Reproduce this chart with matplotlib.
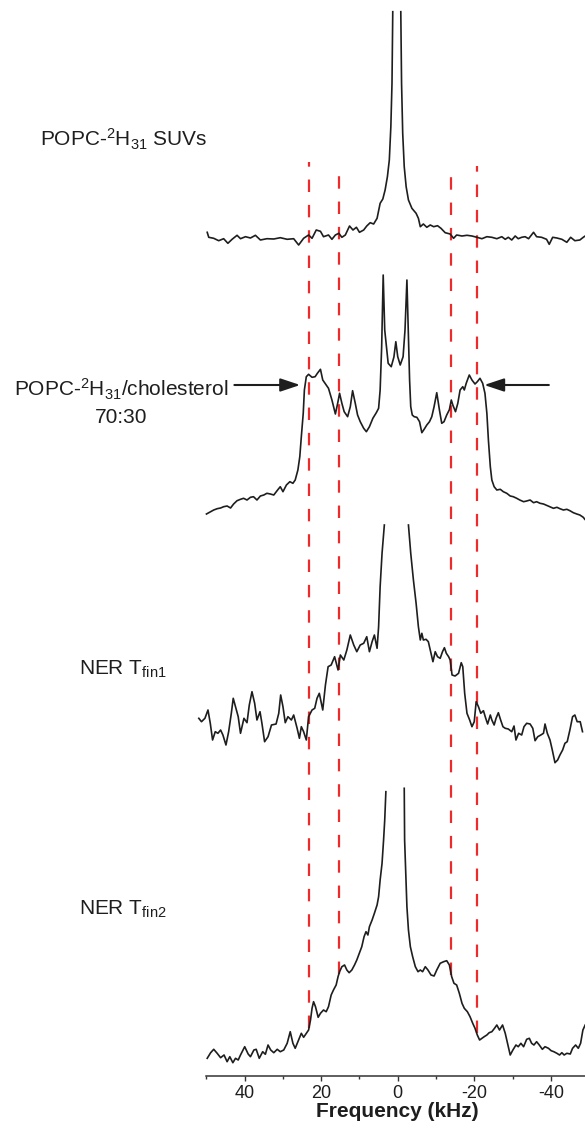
import numpy as np
import matplotlib
matplotlib.use("Agg")
import matplotlib.pyplot as plt
from matplotlib.ticker import MultipleLocator

plt.rcParams["font.family"] = ["Liberation Sans", "DejaVu Sans"]
plt.rcParams["mathtext.fontset"] = "custom"
plt.rcParams["mathtext.rm"] = "Liberation Sans"
plt.rcParams["mathtext.it"] = "Liberation Sans:italic"
plt.rcParams["mathtext.bf"] = "Liberation Sans:bold"
plt.rcParams["axes.unicode_minus"] = False

nan = np.nan

# 2H NMR spectra, frequency in kHz, intensity in arbitrary units
suv_freq = [49.8, 49.4, 48.1, 46.8, 45.5, 44.4, 43.3, 42.0, 41.1, 39.8, 38.5, 37.2, 35.9, 34.2, 32.4,
            30.7, 28.9, 27.2, 25.9, 24.6, 23.3, 22.4, 21.3, 20.2, 19.4, 18.1, 17.2, 16.3, 15.4, 14.6,
            13.7, 12.6, 11.7, 10.8, 10.0, 8.9, 8.1, 7.2, 6.3, 5.4, 4.6, 3.9, 3.3, 2.7, 2.2, 1.8, 1.5, 1.3,
            nan,
            -0.8, -1.0, -1.3, -1.7, -2.2, -2.8, -3.7, -4.8, -5.4, -5.9, -6.7, -7.6, -8.5, -9.4, -10.4,
            -11.3, -12.4, -13.7, -14.6, -15.4, -16.8, -18.1, -19.4, -20.7, -22.0, -23.3, -24.6, -25.9,
            -27.2, -28.1, -28.9, -29.8, -30.7, -31.5, -32.4, -33.3, -34.2, -35.5, -36.3, -37.6, -38.9,
            -39.6, -40.5, -41.6, -42.9, -44.2, -45.2, -46.3, -47.6, -48.5, -49.0]
suv_int = [5.7, 0.7, -0.3, -2.7, -0.7, -5.3, -1.3, 2.7, -0.7, 1.3, 0.0, 2.7, -2.0, -0.7, -1.0,
           0.3, -1.3, -0.7, -7.0, -0.3, 3.0, -0.3, 8.0, 6.7, 1.3, 3.0, -1.3, 3.0, 4.7, 0.7,
           3.0, 12.0, 8.0, 10.7, 5.7, 8.0, 12.0, 15.3, 14.0, 19.7, 34.7, 39.0, 48.0, 61.3, 78.0, 111.3, 154.7, 226.3,
           nan,
           226.3, 154.7, 104.7, 71.3, 51.3, 38.0, 29.7, 24.7, 19.7, 11.3, 14.0, 10.7, 13.0, 11.3, 12.3,
           9.7, 5.3, 4.0, -0.3, 3.0, 2.0, 2.7, 2.0, 0.7, -0.7, 1.3, 0.7, -0.7,
           1.3, -1.3, 0.7, -2.0, 2.0, -0.7, 0.7, 1.3, -0.7, 5.7, 1.3, 0.7, -1.3,
           -6.3, 0.7, 0.0, -1.3, -4.3, 0.7, -2.7, -2.0, 0.7, 2.0]

chol_freq = [50.0, 48.9, 48.1, 47.2, 46.3, 45.5, 44.6, 43.7, 42.9, 42.0, 41.1, 40.3, 39.4, 38.5, 37.7,
             36.8, 35.9, 35.0, 34.2, 33.3, 32.4, 31.4, 30.7, 30.0, 29.1, 28.2, 27.4, 26.8, 26.1, 25.6,
             25.2, 24.7, 24.4, 23.9, 23.3, 22.4, 21.6, 21.0, 20.2, 19.6, 18.7, 18.1, 17.2, 16.3, 15.7,
             15.2, 14.6, 14.0, 13.1, 12.4, 11.8, 11.1, 10.5, 9.8, 8.9, 8.2, 7.4, 6.5, 5.6, 5.0, 4.6,
             4.2, 3.8, 3.4, 2.5, 1.7, 1.0, 0.5, 0.0, -0.65, -1.4, -1.9, -2.4,
             -3.1, -3.4, -3.8, -4.3, -5.0, -5.7, -6.3, -6.9, -7.6, -8.3, -8.9, -9.5, -10.2, -10.9,
             -11.5, -12.1, -12.8, -13.5, -14.0, -14.4, -15.1, -15.7, -16.3, -17.0, -17.4, -17.9,
             -18.7, -19.4, -20.2, -20.8, -21.5, -22.2, -22.8, -23.3, -23.7, -24.2, -24.6, -25.2,
             -25.9, -26.8, -27.6, -28.5, -29.4, -30.2, -31.1, -31.9, -32.9, -33.7, -34.6, -35.5,
             -36.3, -37.2, -38.1, -38.9, -39.8, -40.7, -41.6, -42.4, -43.3, -44.2, -45.0, -45.9,
             -46.8, -47.6, -48.5, -48.9]
chol_int = [1.0, 3.3, 5.0, 6.3, 7.0, 8.3, 9.0, 7.0, 11.0, 14.3, 15.7, 16.7, 15.0, 17.7, 18.3,
            15.0, 19.0, 20.0, 21.7, 21.0, 20.0, 25.0, 28.3, 23.3, 30.0, 33.3, 31.7, 35.0, 45.0, 58.3,
            78.3, 101.7, 125.0, 138.3, 140.7, 137.7, 138.3, 141.7, 145.7, 135.0, 130.0, 126.7, 115.0, 101.0, 111.7,
            121.7, 111.7, 103.3, 98.3, 108.3, 124.3, 111.7, 100.0, 93.3, 86.7, 83.3, 88.3, 96.7, 102.3, 106.7, 125.0,
            168.3, 240.0, 185.0, 151.7, 148.3, 158.0, 173.3, 158.3, 150.0, 158.3, 185.0, 235.0,
            135.0, 108.3, 100.0, 98.3, 97.7, 93.3, 82.3, 85.7, 90.0, 93.3, 98.3, 108.3, 122.3, 105.0,
            91.7, 93.3, 100.0, 105.3, 115.0, 110.0, 103.3, 111.7, 125.0, 128.3, 125.0, 131.7,
            140.0, 135.0, 131.0, 133.3, 136.7, 131.7, 121.7, 101.7, 75.0, 48.3, 35.0, 28.3,
            25.0, 25.7, 23.3, 21.7, 19.0, 18.3, 16.7, 15.0, 13.3, 14.0, 15.0, 12.3,
            13.3, 11.7, 11.0, 9.7, 8.3, 6.7, 7.7, 6.3, 5.0, 5.7, 4.3, 2.3,
            1.0, 0.0, -2.3, -4.3]

tfin1_freq = [52.0, 51.3, 50.4, 49.6, 49.0, 48.4, 47.7, 47.0, 46.3, 45.7, 44.9, 44.2, 43.5, 43.0, 42.4,
              41.7, 41.1, 40.2, 39.4, 38.8, 38.1, 37.4, 36.8, 36.0, 35.5, 34.8, 33.9, 33.0, 31.8, 31.1,
              30.6, 30.0, 29.4, 28.7, 27.8, 27.2, 26.3, 25.7, 25.2, 24.6, 23.9, 23.3, 22.4, 21.7, 21.1,
              20.5, 19.6, 18.9, 18.2, 17.4, 16.5, 15.6, 15.0, 14.1, 13.3, 12.4, 11.5, 10.7, 9.8, 8.9,
              8.1, 7.4, 6.7, 6.1, 5.4, 5.0, 4.6, 4.1, 3.5,
              nan,
              -2.8, -3.4, -4.1, -4.8, -5.4, -5.9, -6.3, -6.7, -7.4, -8.0, -8.7, -9.2, -9.8, -10.4,
              -11.1, -11.7, -12.2, -12.7, -13.3, -13.7, -14.2, -15.0, -15.9, -16.6, -17.0, -17.5,
              -18.1, -18.8, -19.4, -20.0, -20.5, -21.1, -21.7, -22.4, -23.0, -23.5, -24.2, -24.6,
              -25.2, -25.7, -26.3, -26.9, -27.5, -28.1, -28.9, -29.8, -30.4, -30.9, -31.6, -32.4,
              -33.0, -33.7, -34.6, -35.3, -35.9, -36.6, -37.4, -38.1, -38.5, -39.1, -39.8, -40.4,
              -41.1, -41.8, -42.4, -43.1, -43.7, -44.3, -45.0, -45.7, -46.3, -46.9, -47.7, -48.3]
tfin1_int = [46.7, 43.3, 46.7, 55.0, 41.7, 25.0, 33.3, 31.7, 35.0, 30.0, 20.0, 33.3, 51.7, 66.7, 58.3,
             48.3, 31.7, 46.7, 42.3, 60.0, 73.3, 61.7, 45.0, 53.3, 41.7, 23.3, 28.3, 40.0, 41.0, 51.7,
             70.0, 58.3, 42.3, 48.3, 45.0, 50.0, 36.7, 26.7, 38.3, 33.3, 25.0, 48.3, 55.0, 56.7, 66.7,
             71.7, 55.0, 80.0, 98.3, 100.0, 108.3, 95.0, 110.0, 105.0, 115.0, 130.0, 120.0, 113.3, 120.0, 121.7,
             128.3, 113.3, 123.3, 130.0, 116.7, 138.3, 178.3, 211.7, 240.0,
             nan,
             240.0, 211.7, 185.0, 161.7, 138.3, 125.0, 131.7, 125.0, 125.7, 123.3, 111.7, 103.3, 113.3, 108.3,
             106.7, 113.3, 117.3, 111.7, 108.3, 105.0, 90.0, 89.0, 91.7, 102.3, 98.3, 71.7,
             51.7, 45.0, 38.3, 43.3, 63.3, 58.3, 51.7, 54.3, 46.7, 41.0, 50.0, 45.0,
             40.0, 46.7, 52.3, 45.0, 38.3, 36.7, 36.0, 33.3, 39.0, 25.0, 31.7, 30.0,
             38.3, 41.7, 41.0, 36.7, 24.3, 28.3, 30.0, 31.7, 41.0, 31.7, 25.0, 15.0,
             2.3, 5.0, 10.0, 15.0, 21.7, 23.3, 35.0, 48.3, 50.0, 43.3, 43.3, 33.3]

tfin2_freq = [49.8, 48.9, 48.1, 47.2, 46.3, 45.4, 44.6, 43.9, 43.1, 42.4, 41.7, 41.1, 40.0, 39.1, 38.5,
              37.6, 37.0, 36.2, 35.3, 34.6, 33.9, 33.2, 32.4, 31.5, 30.7, 29.8, 28.9, 28.1, 27.4, 26.8,
              25.9, 25.2, 24.6, 23.9, 23.3, 22.8, 22.4, 22.0, 21.5, 20.8, 20.2, 19.4, 18.7, 18.1, 17.4,
              16.8, 16.1, 15.6, 15.2, 14.6, 13.9, 13.3, 12.7, 12.0, 11.3, 10.7, 10.1, 9.4, 8.8, 8.3,
              7.8, 7.4, 6.7, 6.1, 5.4, 5.0, 4.6, 4.1, 3.7, 3.4, 3.1,
              nan,
              -1.7, -1.8, -2.1, -2.4, -2.8, -3.3, -3.9, -4.6, -5.3, -5.9, -6.5, -7.2, -7.9, -8.7,
              -9.5, -10.2, -11.1, -12.0, -12.8, -13.5, -14.1, -14.7, -15.4, -16.1, -16.8, -17.4,
              -18.2, -18.9, -19.6, -20.2, -20.8, -21.4, -22.0, -22.6, -23.3, -23.9, -24.6, -25.3,
              -25.9, -26.6, -27.4, -28.1, -28.7, -29.4, -30.1, -30.9, -31.5, -32.2, -32.9, -33.7,
              -34.4, -35.0, -35.6, -36.3, -37.0, -37.8, -38.5, -39.4, -40.1, -40.8, -41.6, -42.3,
              -42.9, -43.5, -44.2, -45.1, -45.7, -46.5, -47.2, -47.8, -48.4, -49.0]
tfin2_int = [11.7, 17.3, 20.7, 16.7, 12.3, 15.0, 8.3, 13.3, 7.3, 11.7, 10.0, 15.0, 23.3, 16.0, 13.3,
             20.0, 20.7, 11.7, 18.3, 15.7, 25.0, 20.0, 17.3, 20.7, 18.3, 20.0, 26.7, 38.3, 26.7, 21.7,
             30.0, 36.7, 32.7, 36.7, 40.0, 50.0, 61.7, 68.3, 63.3, 52.7, 56.7, 60.0, 58.3, 63.3, 75.0,
             80.0, 85.0, 93.3, 98.3, 103.3, 105.0, 100.0, 97.3, 100.0, 105.0, 110.0, 116.0, 123.3, 133.3, 138.3,
             135.0, 143.3, 150.0, 156.7, 165.0, 173.3, 190.0, 206.7, 230.0, 250.0, 278.3,
             nan,
             281.7, 230.0, 196.7, 163.3, 140.0, 123.3, 113.3, 103.3, 98.3, 100.0, 98.3, 103.3, 100.0, 95.0,
             94.0, 100.0, 106.7, 108.3, 109.3, 105.0, 93.3, 86.7, 85.0, 76.7, 66.7, 61.7,
             58.3, 53.3, 46.7, 41.7, 35.0, 30.0, 31.7, 33.3, 35.0, 37.3, 38.3, 41.7,
             45.0, 40.0, 45.0, 36.7, 26.7, 15.0, 20.0, 25.0, 23.3, 26.7, 23.3, 30.7,
             31.7, 26.7, 25.0, 28.3, 25.0, 20.7, 23.3, 21.7, 19.3, 18.3, 16.7, 15.0,
             17.3, 15.0, 16.7, 16.0, 21.7, 25.0, 21.7, 26.7, 40.0, 45.0]

# quadrupolar splittings marked by the red dashed guides (kHz) and their top ends
guide_freqs = [23.2, 15.4, -14.0, -20.6]
guide_tops = [913.7, 905.7, 905.7, 909.7]

tick_values = [40, 20, 0, -20, -40]
tick_labels = ["40", "20", "0", "-20", "-40"]

# vertical stacking of the four traces
offsets = {"suv": 837.7, "chol": 560.7, "tfin1": 310.7, "tfin2": 5.7}

W, H = 585, 1136
fig = plt.figure(figsize=(W / 100, H / 100), dpi=100)
x0, x1 = 198.8, 585.0
ax = fig.add_axes([x0 / W, (H - 1075.7) / H, (x1 - x0) / W, 1075.7 / H])
ax.set_xlim(52, -48.95)
ax.set_ylim(0, 1075.7)

line_kw = dict(color="#1e1e1e", lw=1.2, clip_on=False, zorder=3, solid_joinstyle="round")
ax.plot(suv_freq, np.array(suv_int) + offsets["suv"], **line_kw)
ax.plot(chol_freq, np.array(chol_int) + offsets["chol"], **line_kw)
ax.plot(tfin1_freq, np.array(tfin1_int) + offsets["tfin1"], **line_kw)
ax.plot(tfin2_freq, np.array(tfin2_int) + offsets["tfin2"], **line_kw)

# dashed guides run down to the bottom trace
f2 = np.array(tfin2_freq)
i2 = np.array(tfin2_int)
ok = ~np.isnan(f2)
order = np.argsort(f2[ok])
for f, top in zip(guide_freqs, guide_tops):
    bottom = np.interp(f, f2[ok][order], i2[ok][order]) + offsets["tfin2"]
    ax.plot([f, f], [bottom, top], color="#ee2a2a", lw=1.6,
            linestyle=(0, (5.6, 5.8)), zorder=2)

# arrows pointing at the shoulders of the cholesterol spectrum
arrow_y = offsets["chol"] + 130
arrow_kw = dict(arrowstyle="-|>,head_length=0.6,head_width=0.2", mutation_scale=20,
                lw=1.5, color="#1e1e1e", shrinkA=0, shrinkB=0)
ax.annotate("", xy=(25.5, arrow_y), xytext=(42.7, arrow_y), arrowprops=arrow_kw,
            annotation_clip=False)
ax.annotate("", xy=(-22.6, arrow_y), xytext=(-39.5, arrow_y), arrowprops=arrow_kw,
            annotation_clip=False)

for side in ["left", "right", "top"]:
    ax.spines[side].set_visible(False)
ax.spines["bottom"].set_bounds(50, -48.95)
ax.spines["bottom"].set_linewidth(1.1)
ax.spines["bottom"].set_color("#333333")
ax.set_yticks([])
ax.set_xticks(tick_values)
ax.set_xticklabels(tick_labels)
ax.xaxis.set_minor_locator(MultipleLocator(10))
ax.tick_params(axis="x", which="major", length=3.5, width=1.0, pad=3.5,
               labelsize=13, colors="#333333", labelcolor="#1e1e1e")
ax.tick_params(axis="x", which="minor", length=2.5, width=1.0, colors="#333333")
ax.set_xlabel("Frequency (kHz)", fontsize=15, fontweight="bold", color="#1e1e1e")
ax.xaxis.set_label_coords((397 - x0) / (x1 - x0), -0.024)


def fig_xy(px, py):
    return px / W, 1 - py / H


txt = dict(fontsize=15, color="#1e1e1e", va="baseline")
fig.text(*fig_xy(40, 146.7), r"POPC-$^{\mathrm{2}}$H$_{\mathrm{31}}$ SUVs", ha="left", **txt)
fig.text(*fig_xy(121, 396.7), r"POPC-$^{\mathrm{2}}$H$_{\mathrm{31}}$/cholesterol", ha="center", **txt)
fig.text(*fig_xy(121, 423.3), "70:30", ha="center", **txt)
fig.text(*fig_xy(79, 675), r"NER T$_{\mathrm{fin1}}$", ha="left", **txt)
fig.text(*fig_xy(79, 915), r"NER T$_{\mathrm{fin2}}$", ha="left", **txt)

fig.savefig("out.png", dpi=100)
